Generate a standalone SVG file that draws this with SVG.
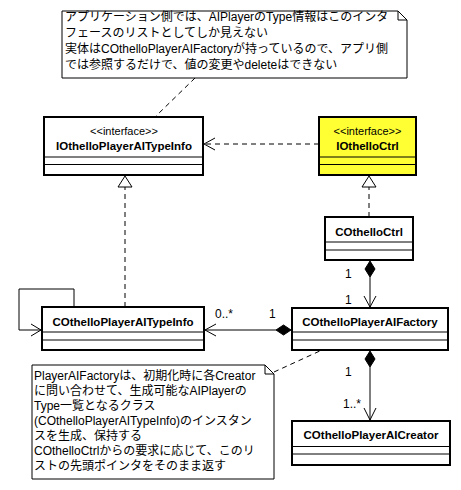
<svg xmlns="http://www.w3.org/2000/svg" width="461" height="490" viewBox="0 0 461 490">
<style>
.box{fill:#fff;stroke:#000;stroke-width:2}
.yel{fill:#ffff33;stroke:#000;stroke-width:2}
.div{stroke:#000;stroke-width:1}
.note{fill:#fff;stroke:#000;stroke-width:1}
.fold{fill:none;stroke:#000;stroke-width:1}
.name{font-family:"Liberation Sans",Arial,sans-serif;font-weight:bold;font-size:11.5px;text-anchor:middle;fill:#000}
.st{font-family:"Liberation Sans",Arial,sans-serif;font-size:11px;text-anchor:middle;fill:#000}
.nt{font-family:"Liberation Sans","Noto Sans CJK JP",sans-serif;font-size:12px;fill:#000}
.lbl{font-family:"Liberation Sans",Arial,sans-serif;font-size:12px;fill:#000}
.dash{fill:none;stroke:#000;stroke-width:1;stroke-dasharray:5,4}
.ln{fill:none;stroke:#000;stroke-width:1}
.dia{fill:#000;stroke:#000;stroke-width:1}
.tri{fill:#fff;stroke:#000;stroke-width:1}
</style>

<g id="connectors">
  <line class="dash" x1="195" y1="78" x2="155" y2="117"/>
  <line class="dash" x1="274" y1="372" x2="322" y2="350"/>
  <line class="dash" x1="319" y1="144" x2="204" y2="144"/>
  <polyline class="ln" points="215,138 204,144 215,150"/>
  <line class="dash" x1="125" y1="307" x2="125" y2="187"/>
  <polygon class="tri" points="125,176 118,187 132,187"/>
  <line class="dash" x1="369" y1="217" x2="369" y2="187"/>
  <polygon class="tri" points="369,176 362,187 376,187"/>
  <line class="ln" x1="370" y1="277" x2="370" y2="307"/>
  <polygon class="dia" points="370,261 375,269 370,277 365,269"/>
  <polyline class="ln" points="364,296 370,307 376,296"/>
  <text class="lbl" x="345" y="278">1</text>
  <text class="lbl" x="345" y="304">1</text>
  <line class="ln" x1="276" y1="330" x2="205" y2="330"/>
  <polygon class="dia" points="291,330 283.5,325 276,330 283.5,335"/>
  <polyline class="ln" points="216,324 205,330 216,336"/>
  <text class="lbl" x="215" y="318">0..*</text>
  <text class="lbl" x="269" y="318">1</text>
  <line class="ln" x1="370" y1="367" x2="370" y2="420"/>
  <polygon class="dia" points="370,351 375,359 370,367 365,359"/>
  <polyline class="ln" points="364,408 370,420 376,408"/>
  <text class="lbl" x="345" y="376">1</text>
  <text class="lbl" x="343" y="408">1..*</text>
  <polyline class="ln" points="74,306 74,289 19,289 19,330 41,330"/>
  <polyline class="ln" points="31,324 41,330 31,336"/>
</g>

<g id="note-top">
  <path class="note" d="M62,11 H398 L407,20 V78 H62 Z"/>
  <polyline class="fold" points="398,11 398,20 407,20"/>
  <text class="nt" x="65" y="21">アプリケーション側では、AIPlayerのType情報はこのインタ</text>
  <text class="nt" x="65" y="37">フェースのリストとしてしか見えない</text>
  <text class="nt" x="65" y="53">実体はCOthelloPlayerAIFactoryが持っているので、アプリ側</text>
  <text class="nt" x="65" y="69">では参照するだけで、値の変更やdeleteはできない</text>
</g>

<g id="IOthelloPlayerAITypeInfo">
  <rect class="box" x="44" y="117" width="159" height="58"/>
  <line class="div" x1="44" y1="157" x2="203" y2="157"/>
  <line class="div" x1="44" y1="164.5" x2="203" y2="164.5"/>
  <text class="st" x="124" y="135">&lt;&lt;interface&gt;&gt;</text>
  <text class="name" x="124" y="150">IOthelloPlayerAITypeInfo</text>
</g>

<g id="IOthelloCtrl">
  <rect class="yel" x="319" y="117" width="97" height="58"/>
  <line class="div" x1="319" y1="157" x2="416" y2="157"/>
  <line class="div" x1="319" y1="164.5" x2="416" y2="164.5"/>
  <text class="st" x="367.5" y="135">&lt;&lt;interface&gt;&gt;</text>
  <text class="name" x="367.5" y="150">IOthelloCtrl</text>
</g>

<g id="COthelloCtrl">
  <rect class="box" x="325" y="217" width="88" height="43"/>
  <line class="div" x1="325" y1="242" x2="413" y2="242"/>
  <line class="div" x1="325" y1="250" x2="413" y2="250"/>
  <text class="name" x="369" y="236">COthelloCtrl</text>
</g>

<g id="COthelloPlayerAITypeInfo">
  <rect class="box" x="42" y="307" width="162" height="43"/>
  <line class="div" x1="42" y1="332" x2="204" y2="332"/>
  <line class="div" x1="42" y1="340" x2="204" y2="340"/>
  <text class="name" x="123" y="326">COthelloPlayerAITypeInfo</text>
</g>

<g id="COthelloPlayerAIFactory">
  <rect class="box" x="292" y="308" width="156" height="42"/>
  <line class="div" x1="292" y1="332" x2="448" y2="332"/>
  <line class="div" x1="292" y1="340" x2="448" y2="340"/>
  <text class="name" x="370" y="326">COthelloPlayerAIFactory</text>
</g>

<g id="COthelloPlayerAICreator">
  <rect class="box" x="292" y="421" width="158" height="44"/>
  <line class="div" x1="292" y1="446.5" x2="450" y2="446.5"/>
  <line class="div" x1="292" y1="454" x2="450" y2="454"/>
  <text class="name" x="371" y="439">COthelloPlayerAICreator</text>
</g>

<g id="note-bottom">
  <path class="note" d="M32,365 H265 L274,374 V479 H32 Z"/>
  <polyline class="fold" points="265,365 265,374 274,374"/>
  <text class="nt" x="34" y="380">PlayerAIFactoryは、初期化時に各Creator</text>
  <text class="nt" x="34" y="395">に問い合わせて、生成可能なAIPlayerの</text>
  <text class="nt" x="34" y="410">Type一覧となるクラス</text>
  <text class="nt" x="34" y="425">(COthelloPlayerAITypeInfo)のインスタン</text>
  <text class="nt" x="34" y="440">スを生成、保持する</text>
  <text class="nt" x="34" y="455">COthelloCtrlからの要求に応じて、このリ</text>
  <text class="nt" x="34" y="470">ストの先頭ポインタをそのまま返す</text>
</g>
</svg>
